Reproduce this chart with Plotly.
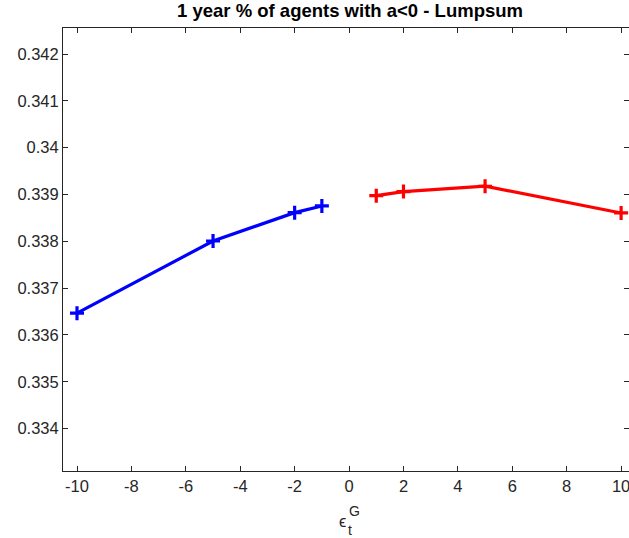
import plotly.graph_objects as go

# data
x_neg = [-10, -5, -2, -1]
y_neg = [0.336465, 0.338006, 0.338612, 0.338755]
x_pos = [1, 2, 5, 10]
y_pos = [0.338975, 0.339061, 0.339176, 0.338605]

y_ticks = [0.334, 0.335, 0.336, 0.337, 0.338, 0.339, 0.34, 0.341, 0.342]
y_ticktext = ["0.334", "0.335", "0.336", "0.337", "0.338", "0.339", "0.34", "0.341", "0.342"]
x_ticks = [-10, -8, -6, -4, -2, 0, 2, 4, 6, 8, 10]
x_ticktext = ["-10", "-8", "-6", "-4", "-2", "0", "2", "4", "6", "8", "10"]

FONT = "Liberation Sans, Arial, Helvetica, sans-serif"
AX = "#262626"
W, H = 629, 538
L, R, T, B = 63, 0, 28, 67

fig = go.Figure()
fig.add_trace(go.Scatter(
    x=x_neg, y=y_neg, mode="lines+markers",
    line=dict(color="#0000ff", width=3.2),
    marker=dict(symbol="cross-thin", size=10, line=dict(color="#0000ff", width=3.2)),
))
fig.add_trace(go.Scatter(
    x=x_pos, y=y_pos, mode="lines+markers",
    line=dict(color="#ff0000", width=3.2),
    marker=dict(symbol="cross-thin", size=10, line=dict(color="#ff0000", width=3.2)),
))

fig.update_layout(
    width=W, height=H,
    margin=dict(l=L, r=R, t=T, b=B),
    paper_bgcolor="white", plot_bgcolor="white",
    showlegend=False,
    font=dict(family=FONT, size=16.5, color=AX),
    title=dict(text="<b>1 year % of agents with a&lt;0 - Lumpsum</b>",
               x=350 / W, xanchor="center", y=1 - 11 / H, yanchor="middle",
               font=dict(family=FONT, size=18.5, color="black")),
)
fig.update_xaxes(
    range=[-10.515, 10.29], tickvals=x_ticks, ticktext=x_ticktext,
    ticklabeloverflow="allow",
    showline=True, linecolor=AX, linewidth=1, mirror="ticks",
    ticks="inside", ticklen=5, tickcolor=AX, showgrid=False, zeroline=False,
)
fig.update_yaxes(
    range=[0.333093, 0.342556], tickvals=y_ticks, ticktext=y_ticktext,
    showline=True, linecolor=AX, linewidth=1, mirror="ticks",
    ticks="inside", ticklen=5, tickcolor=AX, showgrid=False, zeroline=False,
)

# x label: epsilon with stacked sub/superscript
pw = W - L - R
fig.add_annotation(text="ϵ", xref="paper", yref="paper", x=(342.7 - L) / pw, y=0,
                   yanchor="middle", yshift=-(521 - (H - B)),
                   showarrow=False, font=dict(family=FONT, size=16.5, color=AX))
fig.add_annotation(text="G", xref="paper", yref="paper", x=(354 - L) / pw, y=0,
                   yanchor="middle", yshift=-(510.5 - (H - B)),
                   showarrow=False, font=dict(family=FONT, size=14, color=AX))
fig.add_annotation(text="t", xref="paper", yref="paper", x=(349.5 - L) / pw, y=0,
                   yanchor="middle", yshift=-(530 - (H - B)),
                   showarrow=False, font=dict(family=FONT, size=14, color=AX))

fig.write_html("out.html", config={"displayModeBar": False},
               post_script="document.body.style.margin='0';")
